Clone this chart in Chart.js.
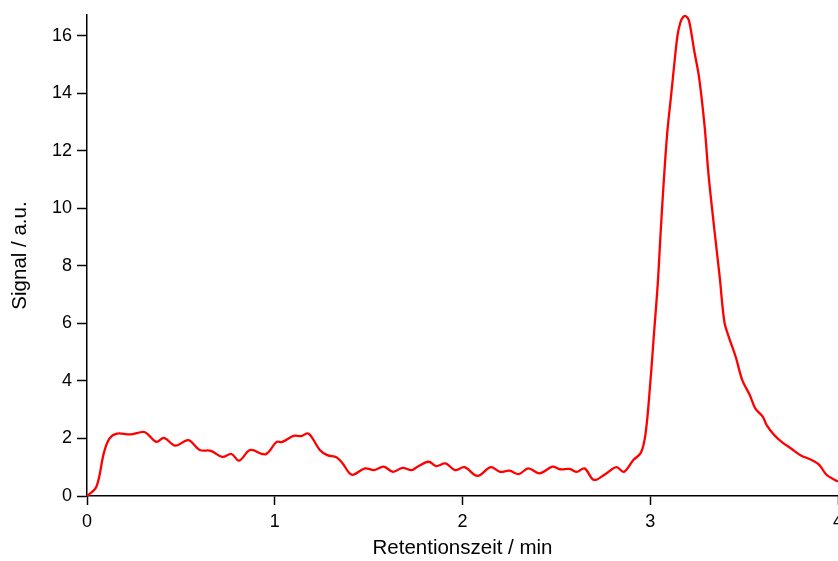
<!DOCTYPE html>
<html>
<head>
<meta charset="utf-8">
<script src="https://cdn.jsdelivr.net/npm/chart.js@4.4.1/dist/chart.umd.min.js"></script>
<style>
  html, body { margin: 0; padding: 0; background: #fff; overflow: hidden; }
  #chart { display: block; }
</style>
</head>
<body>
<canvas id="chart" width="838" height="561"></canvas>
<script>
// Retention time (min) and detector signal (a.u.)
const retentionTimes = [
  0.00, 0.05, 0.09, 0.12, 0.16, 0.23, 0.30, 0.32, 0.37, 0.41,
  0.47, 0.54, 0.60, 0.66, 0.72, 0.77, 0.81, 0.87, 0.95, 1.01,
  1.04, 1.10, 1.14, 1.18, 1.24, 1.28, 1.33, 1.36, 1.41, 1.48,
  1.53, 1.58, 1.63, 1.68, 1.73, 1.76, 1.82, 1.86, 1.91, 1.96,
  2.01, 2.08, 2.15, 2.20, 2.25, 2.30, 2.35, 2.41, 2.48, 2.52,
  2.57, 2.61, 2.65, 2.70, 2.76, 2.82, 2.86, 2.91, 2.95, 2.975,
  3.00, 3.02, 3.04, 3.055, 3.07, 3.09, 3.11, 3.13, 3.145, 3.16,
  3.175, 3.19, 3.205, 3.22, 3.235, 3.26, 3.29, 3.31, 3.34, 3.37,
  3.395, 3.42, 3.455, 3.49, 3.53, 3.56, 3.60, 3.62, 3.66, 3.70,
  3.75, 3.80, 3.86, 3.90, 3.94, 4.00
];
const signal = [
  0.00, 0.32, 1.50, 2.00, 2.17, 2.14, 2.23, 2.17, 1.88, 2.02,
  1.75, 1.94, 1.60, 1.57, 1.36, 1.46, 1.23, 1.60, 1.45, 1.88,
  1.88, 2.09, 2.08, 2.17, 1.60, 1.42, 1.34, 1.15, 0.74, 0.96,
  0.90, 1.02, 0.84, 0.98, 0.90, 1.02, 1.19, 1.04, 1.13, 0.90,
  1.00, 0.70, 1.00, 0.84, 0.88, 0.76, 0.96, 0.79, 1.02, 0.93,
  0.94, 0.84, 0.96, 0.56, 0.76, 1.00, 0.84, 1.25, 1.50, 2.17,
  3.91, 5.65, 7.38, 9.12, 10.74, 12.59, 13.86, 15.13, 16.00, 16.45,
  16.65, 16.68, 16.55, 16.05, 15.45, 14.55, 12.82, 11.20, 9.35, 7.61,
  6.05, 5.50, 4.84, 4.03, 3.51, 3.04, 2.75, 2.46, 2.12, 1.88,
  1.65, 1.42, 1.25, 1.08, 0.73, 0.50
];

const xTicks = [0, 1, 2, 3, 4];
const yTicks = [0, 2, 4, 6, 8, 10, 12, 14, 16];

const points = retentionTimes.map((t, i) => ({ x: t, y: signal[i] }));

const tickFont = { family: "'Liberation Sans', Arial, sans-serif", size: 18 };
const titleFont = { family: "'Liberation Sans', Arial, sans-serif", size: 20.5 };

const ctx = document.getElementById('chart').getContext('2d');
const chart = new Chart(ctx, {
  type: 'line',
  data: {
    datasets: [{
      data: points,
      borderColor: '#ff0000',
      borderWidth: 2.3,
      pointRadius: 0,
      fill: false,
      tension: 0.35,
      clip: false
    }]
  },
  options: {
    responsive: false,
    animation: false,
    layout: { padding: { top: 15, left: 0, right: 0, bottom: 0 } },
    plugins: {
      legend: { display: false },
      tooltip: { enabled: false }
    },
    scales: {
      x: {
        type: 'linear',
        min: 0,
        max: 4,
        afterBuildTicks: scale => { scale.ticks = xTicks.map(v => ({ value: v })); },
        afterFit: scale => { scale.height = 65; scale.paddingRight = 0; scale.paddingLeft = 0; },
        border: { color: '#000', width: 1.5 },
        grid: { drawOnChartArea: false, drawTicks: true, tickLength: 9, tickColor: '#000', tickWidth: 1.5 },
        ticks: { color: '#000', font: tickFont, padding: 6, maxRotation: 0 },
        title: {
          display: true,
          text: 'Retentionszeit / min',
          color: '#000',
          font: titleFont,
          padding: { top: 0, bottom: 0 }
        }
      },
      y: {
        min: 0,
        max: 16.72,
        afterBuildTicks: scale => { scale.ticks = yTicks.map(v => ({ value: v })); },
        afterFit: scale => { scale.width = 87; scale.paddingTop = 0; },
        border: { color: '#000', width: 1.5 },
        grid: { drawOnChartArea: false, drawTicks: true, tickLength: 10, tickColor: '#000', tickWidth: 1.5 },
        ticks: { color: '#000', font: tickFont, padding: 5 },
        title: {
          display: true,
          text: 'Signal / a.u.',
          color: '#000',
          font: titleFont,
          padding: { top: 8, bottom: 0 }
        }
      }
    }
  }
});
</script>
</body>
</html>
